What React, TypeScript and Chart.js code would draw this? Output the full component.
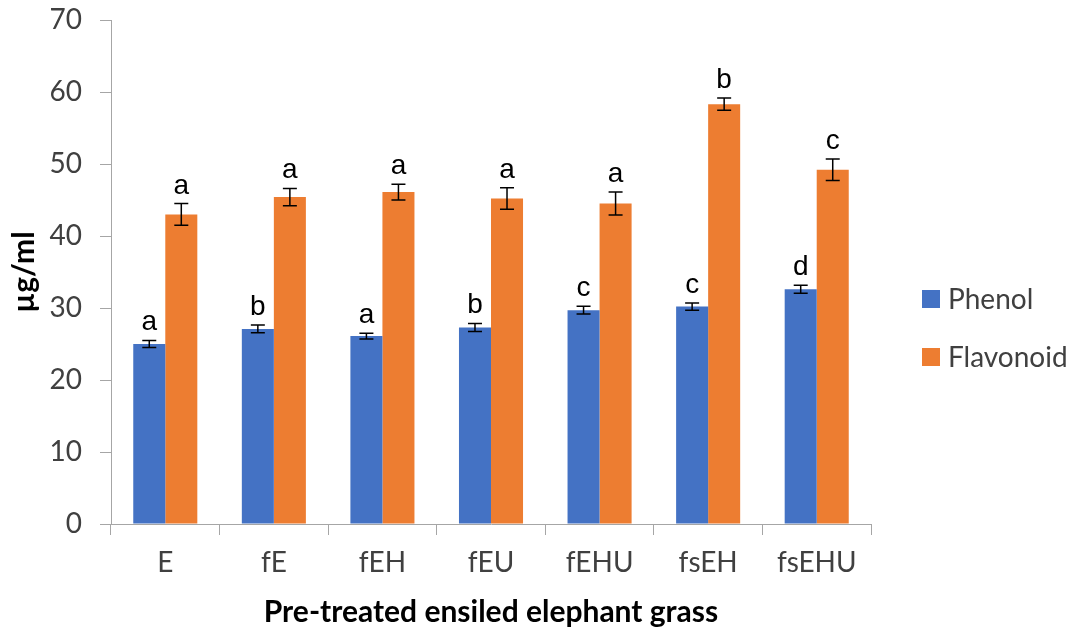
import React, { useEffect, useRef } from "react";
import { Chart, registerables } from "chart.js";

Chart.register(...registerables);

const categories = ["E", "fE", "fEH", "fEU", "fEHU", "fsEH", "fsEHU"];
const phenolValues = [25.0, 27.1, 26.1, 27.3, 29.7, 30.2, 32.6];
const phenolErrors = [0.5, 0.55, 0.4, 0.55, 0.55, 0.5, 0.55];
const phenolLetters = ["a", "b", "a", "b", "c", "c", "d"];
const flavonoidValues = [43.0, 45.4, 46.1, 45.2, 44.5, 58.3, 49.2];
const flavonoidErrors = [1.5, 1.2, 1.1, 1.5, 1.6, 0.85, 1.5];
const flavonoidLetters = ["a", "a", "a", "a", "a", "b", "c"];
const yTicks = [0, 10, 20, 30, 40, 50, 60, 70];

const errorsByDataset = [phenolErrors, flavonoidErrors];
const lettersByDataset = [phenolLetters, flavonoidLetters];

const AXIS_COLOR = "#a6a6a6";
const TEXT_COLOR = "#404040";
const FONT = "Lato";

const errorBarPlugin = {
  id: "errorBars",
  afterDatasetsDraw(chart: any) {
    const ctx = chart.ctx;
    const yScale = chart.scales.y;
    chart.data.datasets.forEach((ds: any, di: number) => {
      const meta = chart.getDatasetMeta(di);
      const errs = errorsByDataset[di];
      const letters = lettersByDataset[di];
      meta.data.forEach((bar: any, i: number) => {
        const v = ds.data[i];
        const e = errs[i];
        const x = bar.x;
        const yTop = yScale.getPixelForValue(v + e);
        const yBot = yScale.getPixelForValue(v - e);
        ctx.save();
        ctx.strokeStyle = "#000000";
        ctx.lineWidth = 1.5;
        ctx.beginPath();
        ctx.moveTo(x, yTop);
        ctx.lineTo(x, yBot);
        ctx.moveTo(x - 7, yTop);
        ctx.lineTo(x + 7, yTop);
        ctx.moveTo(x - 7, yBot);
        ctx.lineTo(x + 7, yBot);
        ctx.stroke();
        ctx.fillStyle = "#000000";
        ctx.font = "28px 'Liberation Sans', Arial, sans-serif";
        ctx.textAlign = "center";
        ctx.textBaseline = "alphabetic";
        ctx.fillText(letters[i], x, yTop - 10);
        ctx.restore();
      });
    });
  },
};

const legendPlugin = {
  id: "customLegend",
  afterDraw(chart: any) {
    const ctx = chart.ctx;
    const area = chart.chartArea;
    const x0 = area.right + 51;
    const yCenters = [299, 357];
    chart.data.datasets.forEach((ds: any, di: number) => {
      const yc = yCenters[di];
      ctx.save();
      ctx.fillStyle = ds.backgroundColor;
      ctx.fillRect(x0, yc - 9, 18, 18);
      ctx.fillStyle = TEXT_COLOR;
      ctx.font = `28px ${FONT}`;
      ctx.textAlign = "left";
      ctx.textBaseline = "middle";
      ctx.fillText(ds.label, x0 + 26, yc + 1);
      ctx.restore();
    });
  },
};

export default function App() {
  const canvasRef = useRef<HTMLCanvasElement | null>(null);

  useEffect(() => {
    if (!canvasRef.current) return;
    const chart = new Chart(canvasRef.current, {
      type: "bar",
      data: {
        labels: categories,
        datasets: [
          {
            label: "Phenol",
            data: phenolValues,
            backgroundColor: "#4472C4",
            categoryPercentage: 0.59,
            barPercentage: 1.0,
          },
          {
            label: "Flavonoid",
            data: flavonoidValues,
            backgroundColor: "#ED7D31",
            categoryPercentage: 0.59,
            barPercentage: 1.0,
          },
        ],
      },
      options: {
        animation: false,
        responsive: true,
        maintainAspectRatio: false,
        layout: { padding: { top: 20, right: 202, left: 0, bottom: 0 } },
        plugins: {
          legend: { display: false },
          tooltip: { enabled: false },
        },
        scales: {
          x: {
            afterFit: (scale: any) => {
              scale.height = 106;
              scale.paddingLeft = 0;
              scale.paddingRight = 0;
            },
            border: { display: true, color: AXIS_COLOR, width: 1 },
            grid: {
              display: true,
              drawOnChartArea: false,
              drawTicks: true,
              tickLength: 11,
              color: AXIS_COLOR,
              offset: true,
            },
            ticks: {
              color: TEXT_COLOR,
              font: { family: FONT, size: 28 },
              padding: 11,
            },
            title: {
              display: true,
              text: "Pre-treated ensiled elephant grass",
              color: "#000000",
              font: { family: FONT, size: 30, weight: "bold" },
              padding: { top: 0, bottom: 0 },
            },
          },
          y: {
            min: 0,
            max: 70,
            afterFit: (scale: any) => {
              scale.width = 111;
              scale.paddingTop = 0;
              scale.paddingBottom = 0;
            },
            afterBuildTicks: (scale: any) => {
              scale.ticks = yTicks.map((v) => ({ value: v }));
            },
            border: { display: true, color: AXIS_COLOR, width: 1 },
            grid: {
              display: true,
              drawOnChartArea: false,
              drawTicks: true,
              tickLength: 11,
              color: AXIS_COLOR,
            },
            ticks: {
              color: TEXT_COLOR,
              font: { family: FONT, size: 28 },
              padding: 18,
            },
            title: {
              display: true,
              text: "µg/ml",
              color: "#000000",
              font: { family: FONT, size: 30, weight: "bold" },
              padding: { top: 6, bottom: 0 },
            },
          },
        },
      },
      plugins: [errorBarPlugin, legendPlugin],
    });
    return () => chart.destroy();
  }, []);

  return (
    <div
      style={{
        position: "fixed",
        top: 0,
        left: 0,
        width: 1073,
        height: 630,
        background: "#ffffff",
      }}
    >
      <canvas ref={canvasRef} />
    </div>
  );
}
